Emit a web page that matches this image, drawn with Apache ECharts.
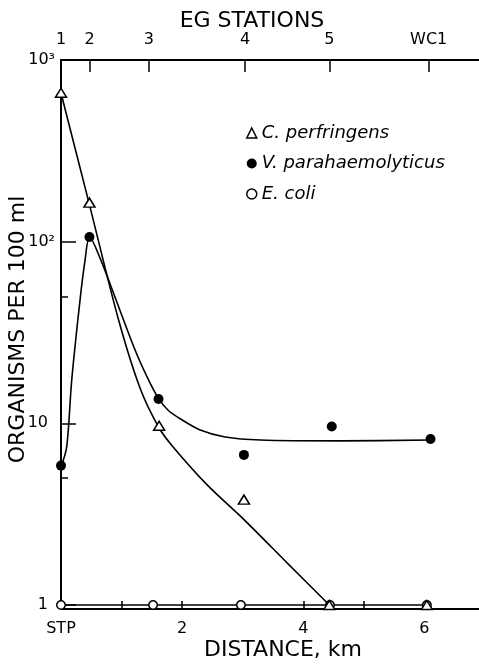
<!DOCTYPE html>
<html><head><meta charset="utf-8">
<style>html,body{margin:0;padding:0;background:#fff}#chart{width:479px;height:664px}</style>
<script src="https://cdn.jsdelivr.net/npm/echarts@6/dist/echarts.min.js"></script>
</head><body><div id="chart"></div>
<script>
// Top axis: EG stations and their distance (km)
const stationNames = ['1', '2', '3', '4', '5', 'WC1'];
const stationKm = [0, 0.47, 1.45, 3.04, 4.43, 6.07];
// Bottom axis labels
const distLabelValues = [0, 2, 4, 6];
const distLabelTexts = ['STP', '2', '4', '6'];
// Left axis labels
const yMajorValues = [1, 10, 100, 1000];
const yMajorLabels = ['1', '10', '10²', '10³'];
const yMinorTickValues = [5, 50];

const seriesNames = ['C. perfringens', 'V. parahaemolyticus', 'E. coli'];

// Observed points
const perfX = [0, 0.47, 1.62, 3.02, 4.43, 6.04];
const perfY = [660, 164, 9.7, 3.8, 1.0, 1.0];
const paraX = [0, 0.47, 1.61, 3.02, 4.47, 6.10];
const paraY = [5.85, 106, 13.6, 6.7, 9.6, 8.2];
const coliX = [0, 1.52, 2.97, 4.44, 6.04];
const coliY = [1, 1, 1, 1, 1];

// Hand-fitted curves as drawn in the figure
const perfCurveX = [0, 0.463, 0.942, 1.306, 1.62, 1.851, 2.413, 3.025, 3.736, 4.43];
const perfCurveY = [658, 163, 38.0, 15.6, 9.42, 7.41, 4.58, 2.94, 1.70, 1.0];
const paraCurveX = [0, 0.094, 0.177, 0.314, 0.397, 0.471, 0.645, 0.86, 1.223, 1.421, 1.603, 1.769, 1.967, 2.298, 2.711, 3.289, 4.612, 6.10];
const paraCurveY = [5.75, 7.41, 17.3, 47.7, 79.2, 106, 81.2, 52.8, 25.3, 18.0, 13.8, 11.8, 10.6, 9.19, 8.41, 8.09, 8.0, 8.09];

const zip = (xs, ys) => xs.map((x, i) => [x, ys[i]]);
const FONT = 'DejaVu Sans';
const BLACK = '#000';

const chart = echarts.init(document.getElementById('chart'), null, {renderer: 'canvas'});

const lineCurve = (data) => ({
  type: 'line', data, showSymbol: false, symbol: 'none', smooth: 0.3,
  lineStyle: {color: BLACK, width: 1.6, opacity: 1}, z: 2, silent: true, xAxisIndex: 0, yAxisIndex: 0
});

const option = {
  animation: false,
  backgroundColor: '#fff',
  textStyle: {fontFamily: FONT, color: BLACK},
  grid: {left: 61, top: 60, right: -6, bottom: 55, outerBoundsMode: 'none'},
  legend: {
    orient: 'vertical', left: 241, top: 119,
    itemWidth: 10, itemHeight: 10, itemGap: 12.5,
    selectedMode: false,
    textStyle: {fontFamily: FONT, fontStyle: 'italic', fontSize: 18, lineHeight: 18, color: BLACK},
    data: [
      {name: seriesNames[0], icon: 'triangle', itemStyle: {color: '#fff', borderColor: BLACK, borderWidth: 1.5, opacity: 1}},
      {name: seriesNames[1], icon: 'circle', itemStyle: {color: BLACK, borderColor: BLACK, borderWidth: 0, opacity: 1}},
      {name: seriesNames[2], icon: 'circle', itemStyle: {color: '#fff', borderColor: BLACK, borderWidth: 1.5, opacity: 1}}
    ]
  },
  xAxis: [
    {
      type: 'value', position: 'bottom', min: 0, max: 7, interval: 1,
      axisLine: {onZero: false, lineStyle: {color: BLACK, width: 2}},
      axisTick: {inside: true, length: 8, lineStyle: {color: BLACK, width: 1.5}},
      axisLabel: {
        margin: 12, fontSize: 16, color: BLACK, fontFamily: FONT,
        formatter: (v) => { const i = distLabelValues.findIndex(d => Math.abs(d - v) < 1e-6); return i >= 0 ? distLabelTexts[i] : ''; }
      },
      splitLine: {show: false},
      name: 'DISTANCE, km', nameLocation: 'middle', nameGap: 30, nameMoveOverlap: false,
      nameTextStyle: {fontSize: 22, color: BLACK, fontFamily: FONT, padding: [0, 0, 0, 20]}
    },
    {
      type: 'value', position: 'top', min: 0, max: 7,
      axisLine: {onZero: false, lineStyle: {color: BLACK, width: 2}},
      axisTick: {inside: true, length: 12, customValues: stationKm, lineStyle: {color: BLACK, width: 1.5}},
      axisLabel: {
        customValues: stationKm, margin: 12, fontSize: 16, color: BLACK, fontFamily: FONT,
        formatter: (v) => { const i = stationKm.findIndex(d => Math.abs(d - v) < 1e-6); return i >= 0 ? stationNames[i] : ''; }
      },
      splitLine: {show: false},
      name: 'EG STATIONS', nameLocation: 'middle', nameGap: 28, nameMoveOverlap: false,
      nameTextStyle: {fontSize: 22, color: BLACK, fontFamily: FONT, padding: [0, 42, 0, 0]}
    }
  ],
  yAxis: [
    {
      type: 'log', logBase: 10, min: 0.95, max: 1000, position: 'left',
      axisLine: {onZero: false, lineStyle: {color: BLACK, width: 2}},
      axisTick: {inside: true, length: 15, lineStyle: {color: BLACK, width: 1.5}},
      minorTick: {show: false},
      axisLabel: {
        margin: 6, fontSize: 16, color: BLACK, fontFamily: FONT,
        formatter: (v) => {
          const i = yMajorValues.findIndex(d => Math.abs(Math.log10(d) - Math.log10(v)) < 1e-6);
          if (i < 0) return '';
          return i < 2 ? '{p|' + yMajorLabels[i] + '}' : yMajorLabels[i];
        },
        rich: {p: {fontSize: 16, color: BLACK, fontFamily: FONT, padding: [0, 7, 0, 0]}}
      },
      splitLine: {show: false},
      name: 'ORGANISMS PER 100 ml', nameLocation: 'middle', nameGap: 32, nameMoveOverlap: false,
      nameTextStyle: {fontSize: 22, color: BLACK, fontFamily: FONT, padding: [0, 0, 0, 10]}
    },
    {
      type: 'value', position: 'left', min: Math.log10(0.95), max: 3,
      axisLine: {show: false},
      axisTick: {inside: true, length: 7, customValues: yMinorTickValues.map(v => Math.log10(v)), lineStyle: {color: BLACK, width: 1.5}},
      axisLabel: {show: false},
      splitLine: {show: false}
    }
  ],
  series: [
    lineCurve(zip(perfCurveX, perfCurveY)),
    lineCurve(zip(paraCurveX, paraCurveY)),
    Object.assign(lineCurve(zip(coliX, coliY)), {smooth: false}),
    {
      name: seriesNames[0], type: 'scatter', data: zip(perfX, perfY), symbol: 'triangle', symbolSize: [11, 9],
      itemStyle: {color: '#fff', borderColor: BLACK, borderWidth: 1.5, opacity: 1}, z: 4, clip: false
    },
    {
      name: seriesNames[1], type: 'scatter', data: zip(paraX, paraY), symbol: 'circle', symbolSize: 10,
      itemStyle: {color: BLACK, borderColor: BLACK, borderWidth: 0, opacity: 1}, z: 5, clip: false
    },
    {
      name: seriesNames[2], type: 'scatter', data: zip(coliX, coliY), symbol: 'circle', symbolSize: 8.5,
      itemStyle: {color: '#fff', borderColor: BLACK, borderWidth: 1.5, opacity: 1}, z: 3, clip: false
    }
  ]
};
chart.setOption(option);
</script>
</body></html>
